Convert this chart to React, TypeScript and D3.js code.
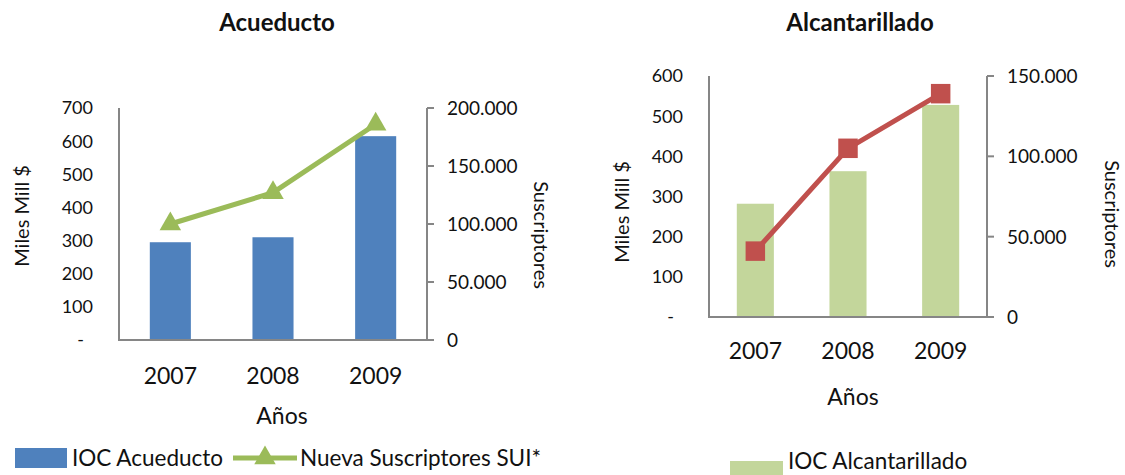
import React, { useEffect, useRef } from "react";
import * as d3 from "d3";

// data
const years = ["2007", "2008", "2009"];
const iocAcueducto = [295, 310, 615];
const suscAcueducto = [100000, 127000, 186000];
const iocAlcantarillado = [282, 363, 528];
const suscAlcantarillado = [41000, 105000, 139000];

const ticksAcuLeft = [0, 100, 200, 300, 400, 500, 600, 700];
const ticksAcuRight = [0, 50000, 100000, 150000, 200000];
const ticksAlcLeft = [0, 100, 200, 300, 400, 500, 600];
const ticksAlcRight = [0, 50000, 100000, 150000];

const FONT = "Lato, 'Open Sans', sans-serif";
const AXIS = "#868686";

const es = d3.formatLocale({ decimal: ",", thousands: ".", grouping: [3], currency: ["$", ""] });
const fmtThousands = es.format(",");

type PanelCfg = {
  title: string;
  titleX: number;
  x0: number;
  x1: number;
  yTop: number;
  yBottom: number;
  bars: number[];
  line: number[];
  leftTicks: number[];
  rightTicks: number[];
  barColor: string;
  lineColor: string;
  marker: d3.SymbolType;
  markerSize: number;
  leftLabelX: number;
  leftTitleX: number;
  leftTitleY: number;
  rightTitleX: number;
  rightTitleY: number;
  yearY: number;
  xTitleX: number;
  xTitleY: number;
};

function drawPanel(svg: d3.Selection<SVGSVGElement, unknown, null, undefined>, c: PanelCfg) {
  const g = svg.append("g");

  const x = d3.scaleBand().domain(years).range([c.x0, c.x1]).paddingInner(0.6).paddingOuter(0.3);
  const yL = d3.scaleLinear().domain([0, d3.max(c.leftTicks)!]).range([c.yBottom, c.yTop]);
  const yR = d3.scaleLinear().domain([0, d3.max(c.rightTicks)!]).range([c.yBottom, c.yTop]);

  g.append("text")
    .attr("x", c.titleX)
    .attr("y", 31)
    .attr("text-anchor", "middle")
    .attr("font-weight", "bold")
    .attr("font-size", 24)
    .text(c.title);

  // bars
  g.selectAll("rect.bar")
    .data(c.bars)
    .enter()
    .append("rect")
    .attr("class", "bar")
    .attr("x", (_d, i) => x(years[i])!)
    .attr("width", x.bandwidth())
    .attr("y", (d) => yL(d))
    .attr("height", (d) => c.yBottom - yL(d))
    .attr("fill", c.barColor);

  // axes
  g.append("path")
    .attr("d", `M${c.x0},${c.yTop}V${c.yBottom}H${c.x1}V${c.yTop}`)
    .attr("fill", "none")
    .attr("stroke", AXIS)
    .attr("stroke-width", 2);

  g.selectAll("line.rtick")
    .data(c.rightTicks)
    .enter()
    .append("line")
    .attr("x1", c.x1)
    .attr("x2", c.x1 + 7)
    .attr("y1", (d) => yR(d))
    .attr("y2", (d) => yR(d))
    .attr("stroke", AXIS)
    .attr("stroke-width", 2);

  g.selectAll("text.ltick")
    .data(c.leftTicks)
    .enter()
    .append("text")
    .attr("x", (d) => (d === 0 ? c.leftLabelX - 9 : c.leftLabelX))
    .attr("y", (d) => yL(d))
    .attr("dy", "0.36em")
    .attr("text-anchor", "end")
    .attr("font-size", 18)
    .text((d) => (d === 0 ? "-" : String(d)));

  g.selectAll("text.rtick")
    .data(c.rightTicks)
    .enter()
    .append("text")
    .attr("x", c.x1 + 20)
    .attr("y", (d) => yR(d))
    .attr("dy", "0.36em")
    .attr("font-size", 19)
    .text((d) => (d === 0 ? "0" : fmtThousands(d)));

  g.selectAll("text.year")
    .data(years)
    .enter()
    .append("text")
    .attr("x", (d) => x(d)! + x.bandwidth() / 2)
    .attr("y", c.yearY)
    .attr("text-anchor", "middle")
    .attr("font-size", 23)
    .text((d) => d);

  g.append("text")
    .attr("x", c.xTitleX)
    .attr("y", c.xTitleY)
    .attr("text-anchor", "middle")
    .attr("font-size", 23)
    .text("Años");

  g.append("text")
    .attr("transform", `translate(${c.leftTitleX},${c.leftTitleY}) rotate(-90)`)
    .attr("text-anchor", "middle")
    .attr("dy", "0.35em")
    .attr("font-size", 20)
    .text("Miles Mill $");

  g.append("text")
    .attr("transform", `translate(${c.rightTitleX},${c.rightTitleY}) rotate(90)`)
    .attr("text-anchor", "middle")
    .attr("dy", "0.35em")
    .attr("font-size", 20)
    .text("Suscriptores");

  // line series on the secondary axis
  const cx = (i: number) => x(years[i])! + x.bandwidth() / 2;
  const line = d3
    .line<number>()
    .x((_d, i) => cx(i))
    .y((d) => yR(d));

  g.append("path")
    .datum(c.line)
    .attr("d", line)
    .attr("fill", "none")
    .attr("stroke", c.lineColor)
    .attr("stroke-width", 5)
    .attr("stroke-linejoin", "round");

  g.selectAll("path.marker")
    .data(c.line)
    .enter()
    .append("path")
    .attr("class", "marker")
    .attr("transform", (d, i) => `translate(${cx(i)},${yR(d)})`)
    .attr("d", d3.symbol().type(c.marker).size(c.markerSize)())
    .attr("fill", c.lineColor);
}

const App = () => {
  const svgRef = useRef<SVGSVGElement>(null);

  useEffect(() => {
    const svg = d3.select(svgRef.current!);
    svg.selectAll("*").remove();
    svg.attr("font-family", FONT).attr("fill", "#111");

    drawPanel(svg, {
      title: "Acueducto",
      titleX: 277,
      x0: 119,
      x1: 427,
      yTop: 108,
      yBottom: 340,
      bars: iocAcueducto,
      line: suscAcueducto,
      leftTicks: ticksAcuLeft,
      rightTicks: ticksAcuRight,
      barColor: "#4F81BD",
      lineColor: "#9BBB59",
      marker: d3.symbolTriangle,
      markerSize: 200,
      leftLabelX: 93,
      leftTitleX: 22,
      leftTitleY: 216,
      rightTitleX: 541,
      rightTitleY: 235,
      yearY: 384,
      xTitleX: 282,
      xTitleY: 424,
    });

    drawPanel(svg, {
      title: "Alcantarillado",
      titleX: 860,
      x0: 709,
      x1: 987,
      yTop: 76,
      yBottom: 317,
      bars: iocAlcantarillado,
      line: suscAlcantarillado,
      leftTicks: ticksAlcLeft,
      rightTicks: ticksAlcRight,
      barColor: "#C3D69B",
      lineColor: "#C0504D",
      marker: d3.symbolSquare,
      markerSize: 380,
      leftLabelX: 683,
      leftTitleX: 622,
      leftTitleY: 212,
      rightTitleX: 1112,
      rightTitleY: 214,
      yearY: 359,
      xTitleX: 853,
      xTitleY: 405,
    });

    // legends
    const lg = svg.append("g").attr("font-size", 22.5);
    lg.append("rect").attr("x", 15).attr("y", 448).attr("width", 52).attr("height", 20).attr("fill", "#4F81BD");
    lg.append("text").attr("x", 72).attr("y", 466).text("IOC Acueducto");
    lg.append("line")
      .attr("x1", 233)
      .attr("x2", 297)
      .attr("y1", 458)
      .attr("y2", 458)
      .attr("stroke", "#9BBB59")
      .attr("stroke-width", 5);
    lg.append("path")
      .attr("transform", "translate(265,458)")
      .attr("d", d3.symbol().type(d3.symbolTriangle).size(200)())
      .attr("fill", "#9BBB59");
    lg.append("text").attr("x", 300).attr("y", 466).text("Nueva Suscriptores SUI*");

    lg.append("rect").attr("x", 730).attr("y", 461).attr("width", 53).attr("height", 14).attr("fill", "#C3D69B");
    lg.append("text").attr("x", 788).attr("y", 469).text("IOC Alcantarillado");
  }, []);

  return (
    <svg
      ref={svgRef}
      width={1125}
      height={475}
      style={{ position: "absolute", left: 0, top: 0, background: "#fff" }}
    ></svg>
  );
};

export default App;
